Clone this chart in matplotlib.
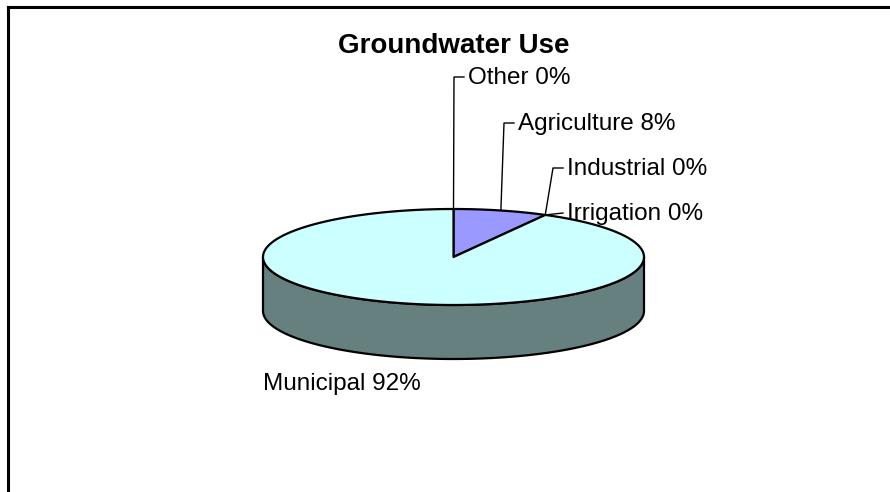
import numpy as np
import matplotlib
matplotlib.use("Agg")
import matplotlib.pyplot as plt
from matplotlib.patches import Polygon

# ---- data ----
categories = ["Other", "Agriculture", "Industrial", "Irrigation", "Municipal"]
values = [0, 8, 0, 0, 92]
top_colors = ["#CCFFFF", "#9999FF", "#CCFFFF", "#CCFFFF", "#CCFFFF"]
title = "Groundwater Use"

# ---- layout (pixels) ----
W, H = 890, 492
cx, cy = 453.5, 257.0      # centre of top face
rx, ry = 190.5, 48.0       # ellipse semi-axes
depth = 54.0               # thickness

fig = plt.figure(figsize=(W / 100, H / 100), dpi=100)
ax = fig.add_axes([0, 0, 1, 1])
ax.set_xlim(0, W)
ax.set_ylim(H, 0)
ax.axis("off")

FONT = "Liberation Sans"

def pt(theta_deg, dz=0.0):
    """theta measured clockwise from 12 o'clock."""
    t = np.radians(theta_deg)
    return cx + rx * np.sin(t), cy - ry * np.cos(t) + dz

def shade(hexcol):
    r, g, b = matplotlib.colors.to_rgb(hexcol)
    return (r * 0.5, g * 0.5, b * 0.5)

total = float(sum(values))
bounds = np.concatenate([[0], np.cumsum(values)]) / total * 360.0

# side faces (front half: clockwise angles 90..270)
for i, v in enumerate(values):
    a0, a1 = bounds[i], bounds[i + 1]
    s0, s1 = max(a0, 90), min(a1, 270)
    if v <= 0 or s1 <= s0:
        continue
    th = np.linspace(s0, s1, 200)
    upper = [pt(t) for t in th]
    lower = [pt(t, depth) for t in th[::-1]]
    ax.add_patch(Polygon(upper + lower, closed=True, facecolor=shade(top_colors[i]),
                         edgecolor="black", linewidth=1.6, joinstyle="round", zorder=2))

# top faces
for i, v in enumerate(values):
    if v <= 0:
        continue
    a0, a1 = bounds[i], bounds[i + 1]
    th = np.linspace(a0, a1, 400)
    poly = [(cx, cy)] + [pt(t) for t in th]
    ax.add_patch(Polygon(poly, closed=True, facecolor=top_colors[i],
                         edgecolor="black", linewidth=1.6, joinstyle="round", zorder=3))

# title
ax.text(cx, 53, title, ha="center", va="baseline", fontsize=20, fontweight="bold",
        family=FONT, zorder=5)

# labels with leader lines
label_pos = {
    "Other": (468, 84, [(454, 77), (464, 77)]),
    "Agriculture": (518, 130, [(504, 123), (514, 123)]),
    "Industrial": (567, 175, [(553, 168), (563, 168)]),
    "Irrigation": (567, 220, [(563, 213)]),
    "Municipal": (263, 390, None),
}
for i, name in enumerate(categories):
    mid = (bounds[i] + bounds[i + 1]) / 2
    pct = round(values[i] / total * 100)
    tx, ty, path = label_pos[name]
    if path is not None:
        sx, sy = pt(mid)
        xs = [sx] + [p[0] for p in path]
        ys = [sy] + [p[1] for p in path]
        ax.plot(xs, ys, color="black", linewidth=1.0, zorder=4)
    ax.text(tx, ty, f"{name} {pct}%", ha="left", va="baseline", fontsize=17.5,
            family=FONT, zorder=5)

# frame (left and top lines only visible)
ax.plot([8, 8], [H + 5, 7], color="black", linewidth=2.2, solid_capstyle="projecting")
ax.plot([8, W + 5], [7, 7], color="black", linewidth=2.2, solid_capstyle="projecting")

fig.savefig("out.png", dpi=100, facecolor="white")
